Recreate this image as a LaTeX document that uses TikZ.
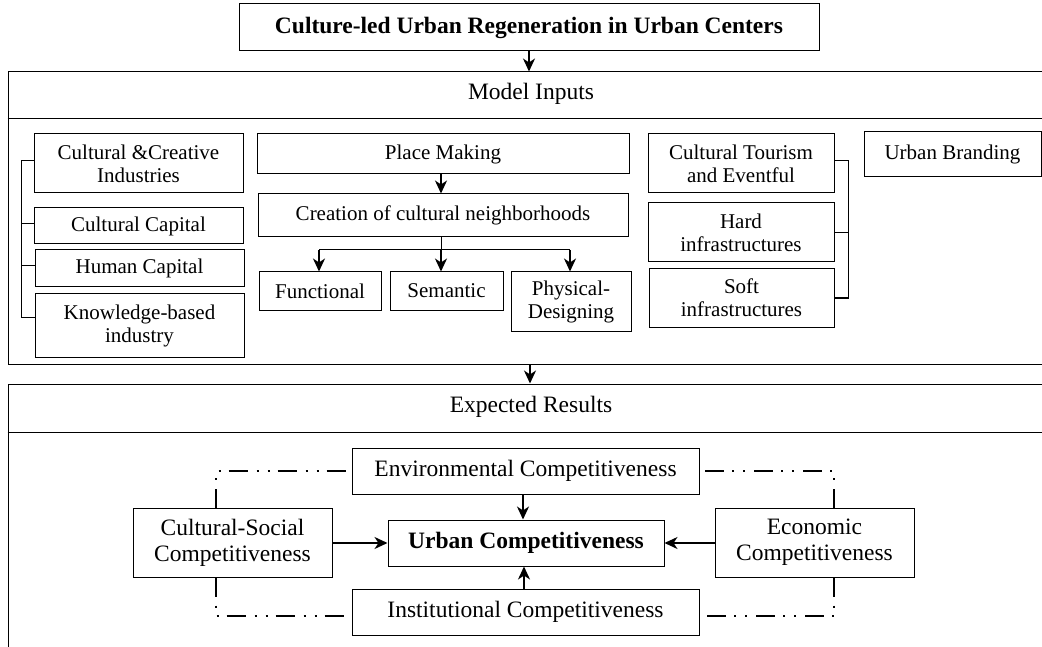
\documentclass[tikz,border=0pt]{standalone}
\usepackage{fontspec}
\setmainfont{Liberation Serif}
\usetikzlibrary{arrows.meta,calc}
\begin{document}
\begin{tikzpicture}[x=1pt,y=-1pt,
  txt/.style={font=\fontsize{21}{23}\selectfont, align=center, inner sep=0pt},
  big/.style={font=\fontsize{23.5}{26}\selectfont},
  bigb/.style={font=\bfseries\fontsize{23.5}{26}\selectfont},
  box/.style={txt, draw, line width=1pt},
  arr/.style={line width=1.9pt, -{Stealth[length=13pt,width=12pt,inset=4pt]}},
  ln/.style={line width=1pt},
  dd/.style={line width=1.6pt, dash pattern=on 19pt off 9pt on 2pt off 9pt on 2pt off 8pt}]
\useasboundingbox (0,0) rectangle (1042,647);
% title
\node[box, bigb, minimum width=580pt, minimum height=47pt] (title) at (529,27.5) {Culture-led Urban Regeneration in Urban Centers};
% model inputs frame
\node[draw, line width=1pt, minimum width=1044pt, minimum height=292pt, inner sep=0pt] (mi) at (530,218) {};
\draw[ln] (mi.west |- 0,119) -- (mi.east |- 0,119);
\node[txt, big] (mil) at (531,94) {Model Inputs};
\draw[arr] (title.south) -- (title.south |- mi.north);
% left column
\node[box, minimum width=209pt, minimum height=59pt] (cci) at (138.5,163.5) {Cultural \&Creative\\Industries};
\node[box, minimum width=209pt, minimum height=36pt] (cc) at (138.5,226) {Cultural Capital};
\node[box, minimum width=209pt, minimum height=37pt] (hc) at (139.5,268.5) {Human Capital};
\node[box, minimum width=209pt, minimum height=63pt] (kbi) at (139.5,325.5) {Knowledge-based\\industry};
\draw[ln] (cci.west |- 0,161) -- (21,161) -- (21,317) -- (kbi.west |- 0,317);
\draw[ln] (21,224) -- (cc.west |- 0,224);
\draw[ln] (21,266) -- (hc.west |- 0,266);
% middle
\node[box, minimum width=372pt, minimum height=40pt] (pm) at (443,154) {Place Making};
\node[box, minimum width=370pt, minimum height=43pt] (cr) at (443,215.5) {Creation of cultural neighborhoods};
\node[box, minimum width=122pt, minimum height=38pt] (fu) at (320,291) {Functional};
\node[box, minimum width=113pt, minimum height=38pt] (se) at (446.5,291) {Semantic};
\node[box, minimum width=120pt, minimum height=59pt] (ph) at (571,301.5) {Physical-\\Designing};
\draw[arr] (pm.south -| 441,0) -- (cr.north -| 441,0);
\coordinate (br) at (441,250);
\draw[ln] (cr.south -| br) -- (br);
\draw[ln] (319,250) -- (570,250);
\draw[arr] (319,250) -- (fu.north -| 319,0);
\draw[arr] (br) -- (se.north -| br);
\draw[arr] (570,250) -- (ph.north -| 570,0);
% right group
\node[box, minimum width=186pt, minimum height=59pt] (ct) at (741,163.5) {Cultural Tourism\\and Eventful};
\node[box, minimum width=186pt, minimum height=59pt] (hard) at (741,232.5) {Hard\\infrastructures};
\node[box, minimum width=185pt, minimum height=58pt] (soft) at (741.5,298) {Soft\\infrastructures};
\draw[ln] (ct.east |- 0,161) -- (848,161) -- (848,298) -- (soft.east |- 0,298);
\draw[ln] (hard.east) -- (hard.east -| 848,0);
\node[box, minimum width=177pt, minimum height=45pt] (ub) at (952.5,154.5) {Urban Branding};
% expected results frame
\node[draw, line width=1pt, minimum width=1044pt, minimum height=290pt, inner sep=0pt] (er) at (530,529) {};
\draw[ln] (er.west |- 0,432) -- (er.east |- 0,432);
\node[txt, big] (erl) at (531,407) {Expected Results};
\draw[arr] (mi.south) -- (er.north);
% competitiveness
\node[box, big, minimum width=347pt, minimum height=46pt] (env) at (525.5,471) {Environmental Competitiveness};
\node[box, bigb, minimum width=276pt, minimum height=46pt] (uc) at (526,543) {Urban Competitiveness};
\node[box, big, minimum width=347pt, minimum height=46pt] (inst) at (525.5,612) {Institutional Competitiveness};
\node[box, big, minimum width=199pt, minimum height=69pt] (cs) at (232.5,542.5) {Cultural-Social\\Competitiveness};
\node[box, big, minimum width=199pt, minimum height=69pt] (ec) at (814.5,542.5) {Economic\\Competitiveness};
\draw[arr] (env.south -| 523,0) -- (uc.north -| 523,0);
\draw[arr] (inst.north -| 524,0) -- (uc.south -| 524,0);
\draw[arr] (cs.east |- uc.west) -- (uc.west);
\draw[arr] (ec.west |- uc.east) -- (uc.east);
\draw[dd] (cs.north -| 216,0) -- (216,471) -- (env.west);
\draw[dd] (cs.south -| 216,0) -- (216,616) -- (inst.west |- 0,616);
\draw[dd] (ec.north -| 834,0) -- (834,471) -- (env.east);
\draw[dd] (ec.south -| 834,0) -- (834,616) -- (inst.east |- 0,616);
\end{tikzpicture}
\end{document}
